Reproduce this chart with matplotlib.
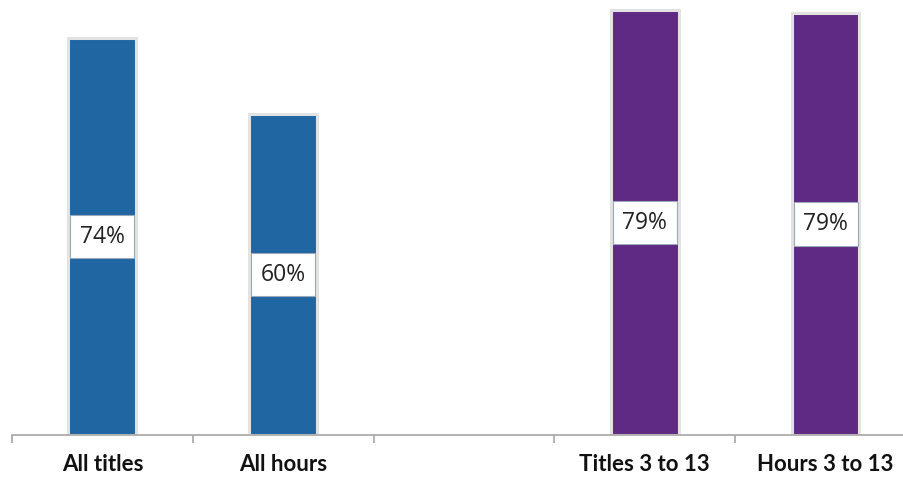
import matplotlib
matplotlib.use("Agg")
import matplotlib.pyplot as plt
import numpy as np

categories = ["All titles", "All hours", "", "Titles 3 to 13", "Hours 3 to 13"]
values = [74.1, 59.9, None, 79.3, 78.8]
colors = ["#2066A3", "#2066A3", None, "#5E2A84", "#5E2A84"]

fig = plt.figure(figsize=(9.04, 4.79), dpi=100)
ax = fig.add_axes([12/904, 44/479, 904/904, 435/479])

x = np.arange(len(categories))
for xi, v, c in zip(x, values, colors):
    if v is None:
        continue
    ax.bar(xi, v, width=0.375, color=c, edgecolor="#e2e2e2", linewidth=2.2, zorder=2)
    ax.text(xi, v / 2, f"{v:.0f}%", ha="center", va="center", fontsize=16.5,
            family="Open Sans", color="#222222", zorder=3,
            bbox=dict(boxstyle="square,pad=0.42", fc="white", ec="#9aa9b8", lw=0.8))

ax.set_xlim(-0.5, len(categories) - 0.5)
ax.set_ylim(0, 81.2)
ax.set_yticks([])
for s in ["top", "right", "left"]:
    ax.spines[s].set_visible(False)
ax.spines["bottom"].set_color("#a6a6a6")
ax.spines["bottom"].set_linewidth(1.2)
ax.spines["bottom"].set_zorder(5)

ax.set_xticks(x)
ax.set_xticklabels(categories, fontsize=16, fontweight="bold", family="Lato", color="#111111")
ax.tick_params(axis="x", which="major", length=0, pad=14)
ax.set_xticks(np.arange(-0.5, len(categories) + 0.5, 1), minor=True)
ax.tick_params(axis="x", which="minor", length=6, color="#a6a6a6", width=1.2)

fig.savefig("out.png", dpi=100)
